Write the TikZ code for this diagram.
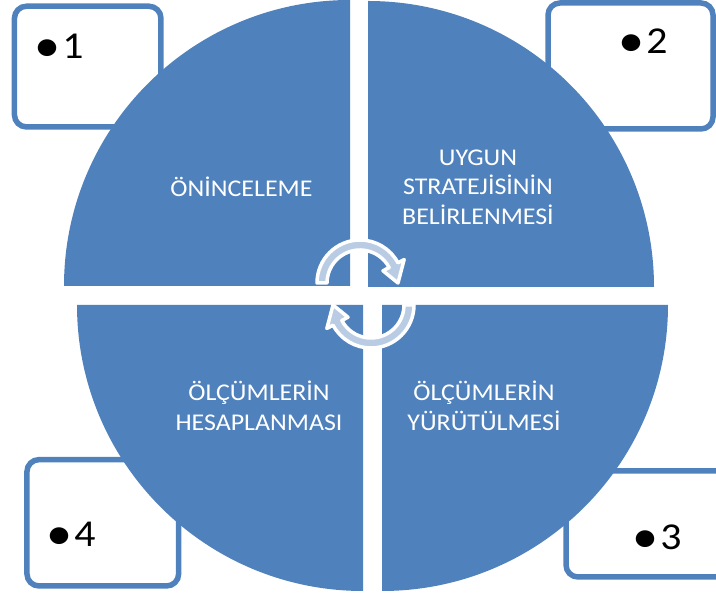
\documentclass[tikz,border=0pt]{standalone}
\usepackage{fontspec}
\setmainfont{Carlito}
\usepackage{tikz}

\definecolor{quadblue}{RGB}{79,129,189}
\definecolor{arrowfill}{RGB}{185,204,228}

\newcommand{\bignum}[1]{\raisebox{-3pt}{\scalebox{1.25}{\textbullet}}\hspace{2pt}#1}

\begin{document}
\begin{tikzpicture}[x=1pt, y=1pt,
  quadrant/.style={fill=quadblue},
  numbox/.style={draw=quadblue, line width=5.5pt, fill=white, rounded corners=12pt, inner sep=0pt},
  numtext/.style={anchor=base west, inner sep=0pt, font=\fontsize{38}{40}\selectfont, xscale=1.1, transform shape},
  quadtext/.style={text=white, align=center, inner sep=0pt, font=\fontsize{24}{29.5}\selectfont, xscale=1.08, transform shape},
  cyclearrow/.style={fill=arrowfill, draw=white, line width=3.5pt, line join=round}]

\useasboundingbox (0,0) rectangle (716,594);
\clip (0,0) rectangle (716,594);

\foreach \n/\cx/\cy/\w/\h in {1/87.7/527.4/146.5/120.7, 2/630.5/528/165/126,
                               3/648.5/70/165/106, 4/102.8/71.2/151.7/126.3}
  \node [numbox, minimum width=\w, minimum height=\h] (box\n) at (\cx,\cy) {};

\foreach \cx/\cy/\a in {350/308/90, 368/307/0, 382/289/270, 363/289/180}
  \fill [quadrant] (\cx,\cy) -- ++(\a:286) arc [start angle=\a, delta angle=90, radius=286] -- cycle;

\begin{scope}[shift={(360,311)}]
  \draw [cyclearrow] (180:43) arc [start angle=180, end angle=28, radius=43]
    -- (28:50) -- (0:38) -- (28:26) -- (28:33)
    arc [start angle=28, end angle=180, radius=33] -- cycle;
\end{scope}
\begin{scope}[shift={(371,289)}]
  \draw [cyclearrow] (0:43) arc [start angle=0, end angle=-152, radius=43]
    -- (-152:50) -- (-180:38) -- (-152:26) -- (-152:33)
    arc [start angle=-152, end angle=0, radius=33] -- cycle;
\end{scope}

\node [numtext] (num1) at (34,535) {\bignum{1}};
\node [numtext] (num2) at (618,540) {\bignum{2}};
\node [numtext] (num3) at (632,44) {\bignum{3}};
\node [numtext] (num4) at (46,47) {\bignum{4}};

\node [quadtext] (q1) at (241.5,407) {ÖNİNCELEME};
\node [quadtext] (q2) at (478,407) {UYGUN\\STRATEJİSİNİN\\BELİRLENMESİ};
\node [quadtext] (q3) at (484,188) {ÖLÇÜMLERİN\\YÜRÜTÜLMESİ};
\node [quadtext] (q4) at (259,188) {ÖLÇÜMLERİN\\HESAPLANMASI};

\end{tikzpicture}
\end{document}
